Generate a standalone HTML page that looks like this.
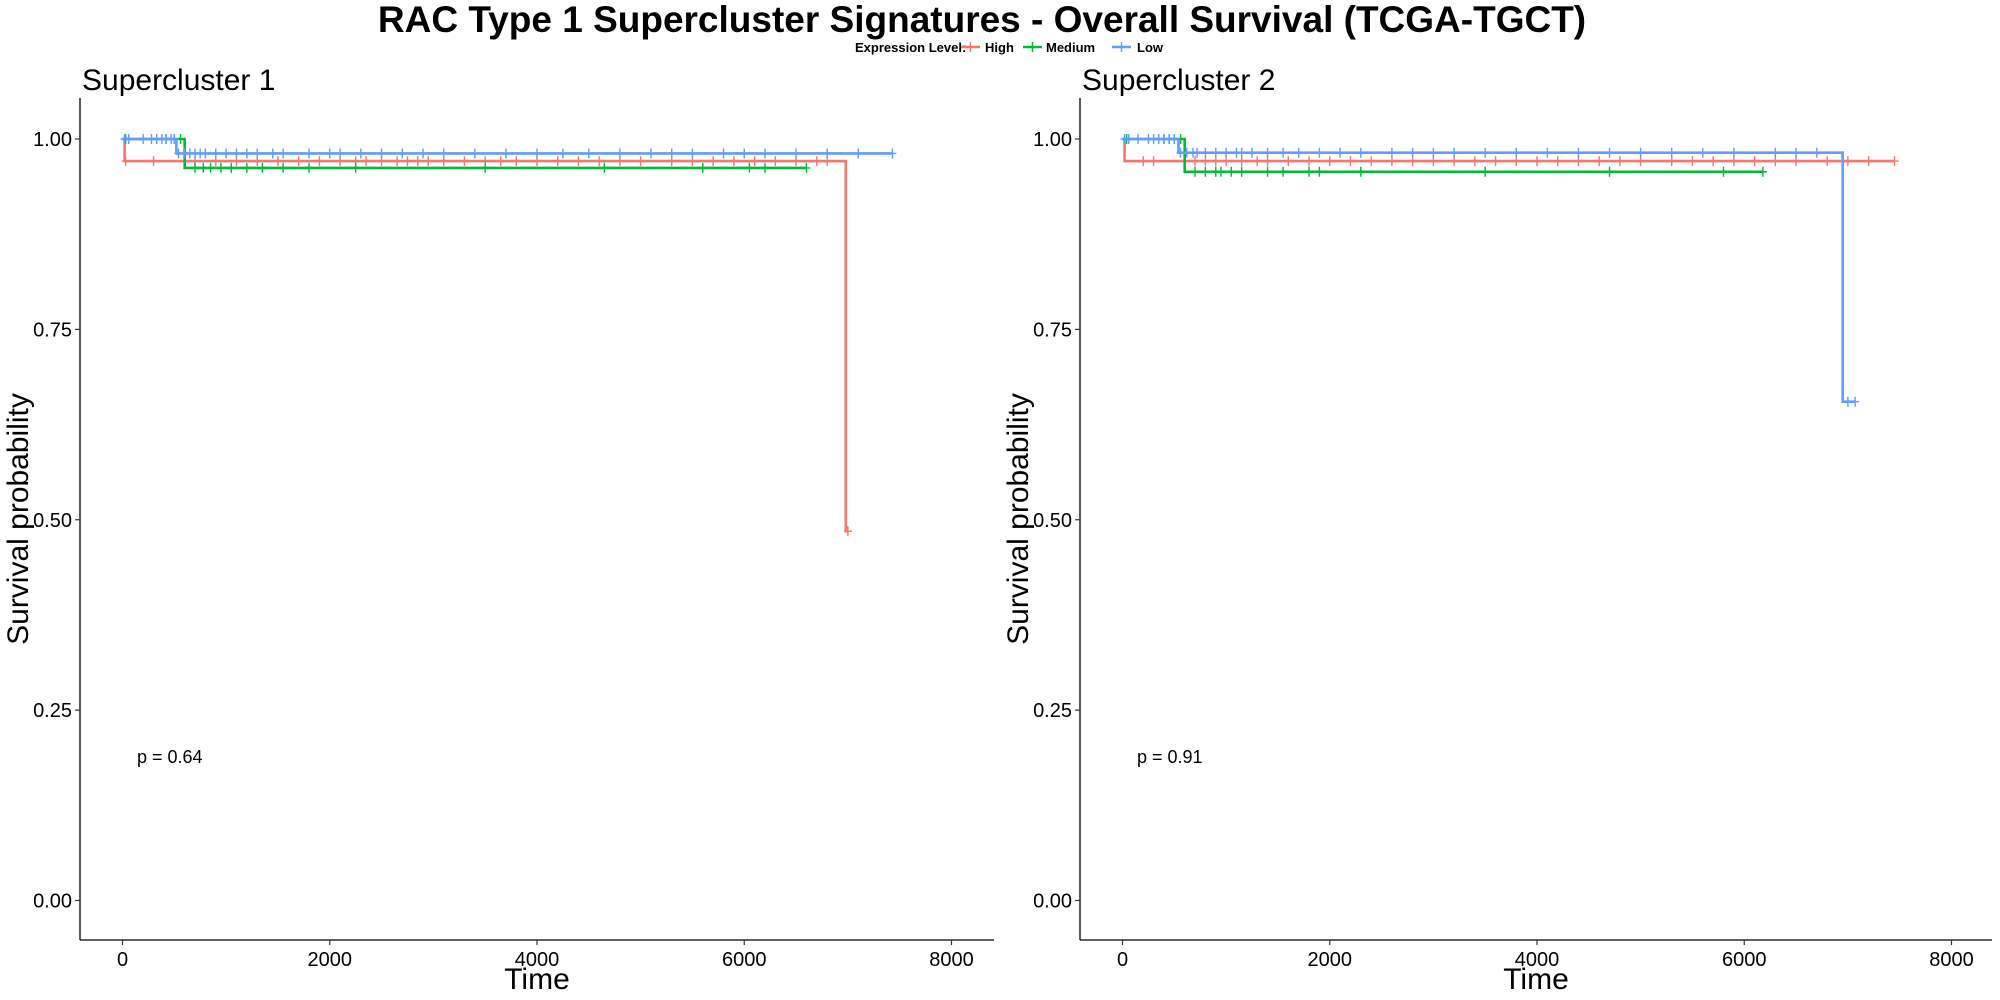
<!DOCTYPE html>
<html><head><meta charset="utf-8"><style>
body{margin:0;background:#fff;}
svg{display:block;font-family:"Liberation Sans",Arial,sans-serif;}
</style></head><body>
<svg id="c" width="2000" height="1000" xmlns="http://www.w3.org/2000/svg">
<text x="982" y="32" text-anchor="middle" font-size="37" font-weight="bold">RAC Type 1 Supercluster Signatures - Overall Survival (TCGA-TGCT)</text>
<g font-size="13" font-weight="bold">
<text x="855" y="52">Expression Level:</text>
<g><line x1="961" y1="47" x2="980" y2="47" stroke="#F8766D" stroke-width="2.5"/><line x1="970.5" y1="42" x2="970.5" y2="52" stroke="#F8766D" stroke-width="1.5"/><text x="985" y="52">High</text></g>
<g><line x1="1023" y1="47" x2="1042" y2="47" stroke="#00BA38" stroke-width="2.5"/><line x1="1032.5" y1="42" x2="1032.5" y2="52" stroke="#00BA38" stroke-width="1.5"/><text x="1046" y="52">Medium</text></g>
<g><line x1="1112" y1="47" x2="1131" y2="47" stroke="#619CFF" stroke-width="2.5"/><line x1="1121.5" y1="42" x2="1121.5" y2="52" stroke="#619CFF" stroke-width="1.5"/><text x="1137" y="52">Low</text></g>
</g>
</svg>
<script>
const xTicks=[0,2000,4000,6000,8000];
const yTicks=[0,0.25,0.5,0.75,1.0];
const yTickLabels=["0.00","0.25","0.50","0.75","1.00"];
const seriesNames=["High","Medium","Low"];
const colors=["#F8766D","#00BA38","#619CFF"];
const p1HighT=[0,20,6980,7000];
const p1HighS=[1,0.971,0.485,0.485];
const p1HighC=[30,300,700,900,1100,1300,1500,1700,1900,2100,2250,2350,2500,2650,2750,2850,2950,3100,3300,3500,3650,3800,4000,4200,4400,4600,4800,5000,5300,5500,5700,5900,6100,6300,6500,6700,6800,7000];
const p1MedT=[0,600,6600];
const p1MedS=[1,0.962,0.962];
const p1MedC=[30,420,500,560,700,780,850,950,1050,1200,1350,1550,1800,2250,3500,4650,5600,6050,6200,6600];
const p1LowT=[0,520,7430];
const p1LowS=[1,0.981,0.981];
const p1LowC=[20,60,200,280,330,380,420,470,500,540,600,650,700,750,800,900,1000,1100,1200,1300,1450,1550,1800,2000,2100,2300,2500,2700,2900,3100,3400,3700,4000,4250,4500,4800,5100,5300,5500,5800,6000,6200,6500,6800,7100,7430];
const p2HighT=[0,20,7450];
const p2HighS=[1,0.971,0.971];
const p2HighC=[200,300,700,800,900,1000,1150,1300,1400,1600,1800,2000,2200,2400,2600,2800,3000,3200,3400,3600,3800,4000,4200,4400,4600,4800,5000,5300,5500,5700,5900,6100,6300,6500,6800,7000,7200,7450];
const p2MedT=[0,600,6180];
const p2MedS=[1,0.957,0.957];
const p2MedC=[40,400,450,500,560,700,800,900,950,1050,1150,1400,1550,1800,1900,2300,3500,4700,5800,6180];
const p2LowT=[0,540,6950,7070];
const p2LowS=[1,0.982,0.655,0.655];
const p2LowC=[20,60,150,250,300,350,400,450,500,560,620,680,720,800,900,1000,1100,1150,1250,1400,1550,1700,1900,2100,2300,2600,2800,3000,3200,3500,3800,4100,4400,4700,5000,5300,5600,5900,6300,6500,6700,7000,7070];
const pValues=["p = 0.64","p = 0.91"];
const panelTitles=["Supercluster 1","Supercluster 2"];

const NS="http://www.w3.org/2000/svg";
const svg=document.getElementById('c');
function mk(t,a,p){const e=document.createElementNS(NS,t);for(const k in a)e.setAttribute(k,a[k]);(p||svg).appendChild(e);return e;}
const panels=[
 {ax:80,x0:122.5,x1:951.5,right:994,series:[[p1HighT,p1HighS,p1HighC],[p1MedT,p1MedS,p1MedC],[p1LowT,p1LowS,p1LowC]]},
 {ax:1080,x0:1122.5,x1:1951.5,right:1992,series:[[p2HighT,p2HighS,p2HighC],[p2MedT,p2MedS,p2MedC],[p2LowT,p2LowS,p2LowC]]}
];
const yTop=98,yBot=940;
function ys(v){return 900.5-(900.5-139)*v;}
panels.forEach((P,pi)=>{
 const g=mk('g',{});
 
 
 const xs=v=>P.x0+(P.x1-P.x0)*v/8000;
 const t=mk('text',{x:P.ax+2,y:90,'font-size':30},g);t.textContent=panelTitles[pi];
 
 
 const yl=mk('line',{x1:P.ax,y1:yTop,x2:P.ax,y2:yBot,stroke:'#000','stroke-width':1.3},g);
 
 
 const xl=mk('line',{x1:P.ax,y1:yBot,x2:P.right,y2:yBot,stroke:'#000','stroke-width':1.3},g);
 
 
 yTicks.forEach((v,i)=>{
  mk('line',{x1:P.ax-5,x2:P.ax,y1:ys(v),y2:ys(v),stroke:'#333','stroke-width':1.2},g);
  const l=mk('text',{x:P.ax-8,y:ys(v)+7,'text-anchor':'end','font-size':20},g);l.textContent=yTickLabels[i];
  
  
 });
 xTicks.forEach(v=>{
  mk('line',{x1:xs(v),x2:xs(v),y1:yBot,y2:yBot+5,stroke:'#333','stroke-width':1.2},g);
  const l=mk('text',{x:xs(v),y:yBot+26,'text-anchor':'middle','font-size':20},g);l.textContent=v;
  
  
 });
 const xt=mk('text',{x:(P.ax+P.right)/2,y:989,'text-anchor':'middle','font-size':30},g);xt.textContent='Time';
 
 
 const yt=mk('text',{x:0,y:0,'text-anchor':'middle','font-size':30,transform:`translate(${P.ax-52},519) rotate(-90)`},g);yt.textContent='Survival probability';
 
 
 const pv=mk('text',{x:xs(140),y:ys(0.19)+7,'font-size':18},g);pv.textContent=pValues[pi];
 
 
 P.series.forEach((s,si)=>{
  const [T,S,C]=s;
  let d=`M${xs(T[0])},${ys(S[0])}`;
  for(let i=1;i<T.length;i++){d+=`H${xs(T[i])}V${ys(S[i])}`;}
  const path=mk('path',{d:d,fill:'none',stroke:colors[si],'stroke-width':2.6},g);
  
  
  C.forEach(c=>{
   let sv=S[0];for(let i=0;i<T.length;i++){if(T[i]<=c)sv=S[i];}
   const m=mk('path',{d:`M${xs(c)-4},${ys(sv)}H${xs(c)+4}M${xs(c)},${ys(sv)-5}V${ys(sv)+5}`,stroke:colors[si],'stroke-width':1.4,fill:'none'},g);
   
   
  });
 });
});
</script>
</body></html>
